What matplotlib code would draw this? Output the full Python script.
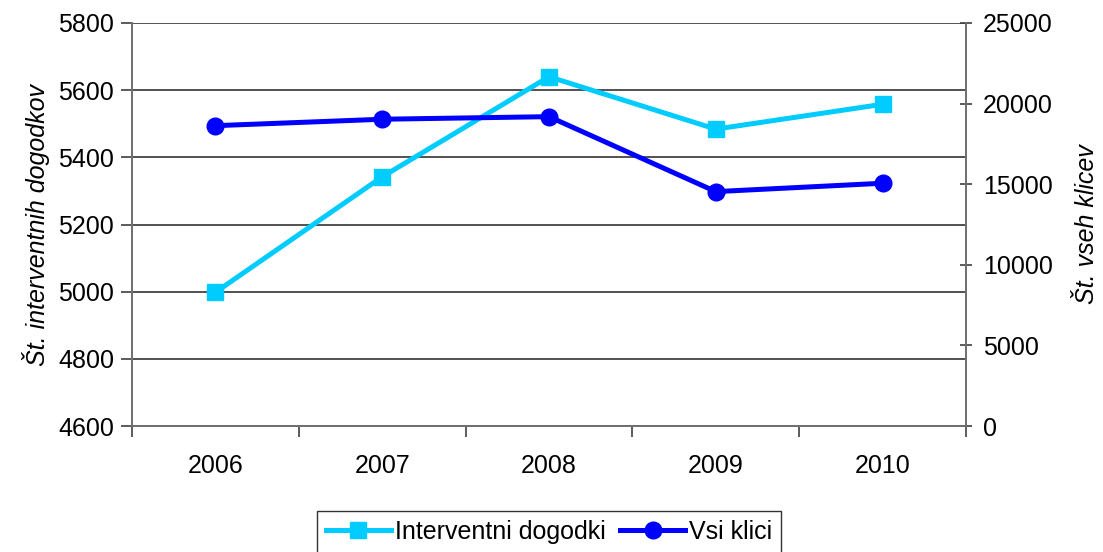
import matplotlib.pyplot as plt
import numpy as np

plt.rcParams['font.family'] = ['Liberation Sans', 'DejaVu Sans']

years = ["2006", "2007", "2008", "2009", "2010"]
interventni = [4998, 5342, 5640, 5484, 5558]
vsi_klici = [18630, 19030, 19190, 14540, 15060]

fs = 18
fig = plt.figure(figsize=(11.03, 5.52), dpi=100)
ax = fig.add_axes([132 / 1103, 1 - 426 / 552, 834 / 1103, 403 / 552])
ax2 = ax.twinx()

x = np.arange(len(years))
l1, = ax.plot(x, interventni, color="#00CCFF", lw=3.6, marker="s", ms=11.5,
              label="Interventni dogodki")
l2, = ax2.plot(x, vsi_klici, color="#0000FF", lw=3.6, marker="o", ms=12,
               label="Vsi klici")

# left axis
ax.set_ylim(4600, 5800)
ax.set_yticks(np.arange(4600, 5801, 200))
ax.set_xlim(-0.5, 4.5)
ax.set_xticks(x)
ax.set_xticklabels(years, fontsize=fs)
ax.set_xticks(np.arange(-0.5, 5, 1), minor=True)
ax.tick_params(axis="x", which="major", length=0, pad=20)
ax.tick_params(axis="x", which="minor", length=8, width=1.2, color="#404040", direction="out")
ax.tick_params(axis="y", labelsize=fs, length=8, width=1.2, color="#404040", direction="out", pad=5)
ax.yaxis.grid(True, color="#222222", lw=1.1)
ax.set_axisbelow(True)
ax.set_ylabel("Št. interventnih dogodkov", fontsize=fs, style="italic", labelpad=6)

# right axis
ax2.set_ylim(0, 25000)
ax2.set_yticks(np.arange(0, 25001, 5000))
ax2.tick_params(axis="y", labelsize=fs, length=8, width=1.2, color="#404040", direction="inout", pad=8)
ax2.set_ylabel("Št. vseh klicev", fontsize=fs, style="italic", labelpad=16)

for a in (ax, ax2):
    a.spines["top"].set_visible(False)
    for s in ("left", "right", "bottom"):
        a.spines[s].set_color("#707070")
        a.spines[s].set_linewidth(1.3)

leg = fig.legend(handles=[l1, l2], loc="upper center", ncol=2,
                 bbox_to_anchor=(549 / 1103, 1 - 511 / 552), fontsize=fs,
                 frameon=True, fancybox=False, edgecolor="black",
                 handlelength=2.6, handletextpad=0.15, columnspacing=0.6,
                 borderpad=0.35, borderaxespad=0)
leg.get_frame().set_linewidth(1.0)

fig.savefig("out.png", dpi=100)
